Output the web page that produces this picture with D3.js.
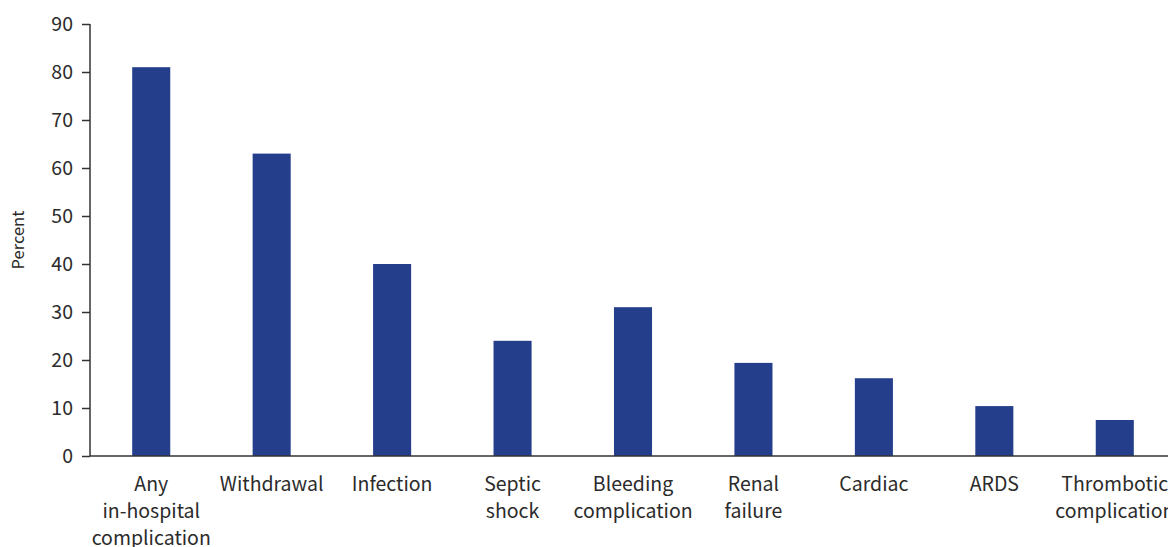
<!DOCTYPE html>
<html>
<head>
<meta charset="utf-8">
<script src="https://cdn.jsdelivr.net/npm/d3@7"></script>
<style>
  html, body { margin: 0; padding: 0; background: #fff; }
  svg { display: block; }
  text { font-family: "Noto Sans CJK KR", "Noto Sans", sans-serif; fill: #2b2b2b; }
</style>
</head>
<body>
<svg id="chart" width="1168" height="547"></svg>
<script>
// Complication categories (each entry is a list of label lines)
const categories = [
  ["Any", "in-hospital", "complication"],
  ["Withdrawal"],
  ["Infection"],
  ["Septic", "shock"],
  ["Bleeding", "complication"],
  ["Renal", "failure"],
  ["Cardiac"],
  ["ARDS"],
  ["Thrombotic", "complication"]
];
// Percent of patients with each complication
const percents = [81, 63, 40, 24, 31, 19.4, 16.2, 10.4, 7.5];
const yTicks = [0, 10, 20, 30, 40, 50, 60, 70, 80, 90];
const yLabel = "Percent";

const svg = d3.select("#chart");
const W = 1168, H = 547;
const plotLeft = 90, plotTop = 24, plotBottom = 456;

const keys = categories.map((c, i) => i);
const x = d3.scaleBand().domain(keys).range([plotLeft + 1, plotLeft + 1085])
  .paddingInner(0.684).paddingOuter(0.342);
const y = d3.scaleLinear().domain([0, 90]).range([plotBottom, plotTop]);

// Bars
svg.append("g").selectAll("rect").data(percents).join("rect")
  .attr("x", (d, i) => x(i))
  .attr("y", d => y(d))
  .attr("width", x.bandwidth())
  .attr("height", d => y(0) - y(d))
  .attr("fill", "#243e8c");

// Y axis
const yAxis = svg.append("g").attr("transform", `translate(${plotLeft},0)`)
  .call(d3.axisLeft(y).tickValues(yTicks).tickSize(8).tickPadding(9));
yAxis.select(".domain").attr("stroke", "#333").attr("stroke-width", 1.5)
  .attr("d", `M0,${plotTop}V${plotBottom}`);
yAxis.selectAll(".tick line").attr("stroke", "#333").attr("stroke-width", 1.5);
yAxis.selectAll(".tick text").attr("font-size", 19.5).attr("fill", "#2b2b2b")
  .style("font-family", '"Noto Sans CJK KR", "Noto Sans", sans-serif');

// X axis baseline
svg.append("line")
  .attr("x1", plotLeft).attr("x2", W)
  .attr("y1", plotBottom).attr("y2", plotBottom)
  .attr("stroke", "#333").attr("stroke-width", 1.5);

// Category labels
const labels = svg.append("g").selectAll("text").data(categories).join("text")
  .attr("text-anchor", "middle")
  .attr("font-size", 19.5)
  .attr("transform", (d, i) => `translate(${x(i) + x.bandwidth() / 2},${plotBottom + 35})`);
labels.selectAll("tspan").data(d => d).join("tspan")
  .attr("x", 0)
  .attr("y", (d, j) => j * 27)
  .text(d => d);

// Y axis title
svg.append("text")
  .attr("transform", `translate(24,${(plotTop + plotBottom) / 2}) rotate(-90)`)
  .attr("text-anchor", "middle")
  .attr("font-size", 16.5)
  .text(yLabel);
</script>
</body>
</html>
